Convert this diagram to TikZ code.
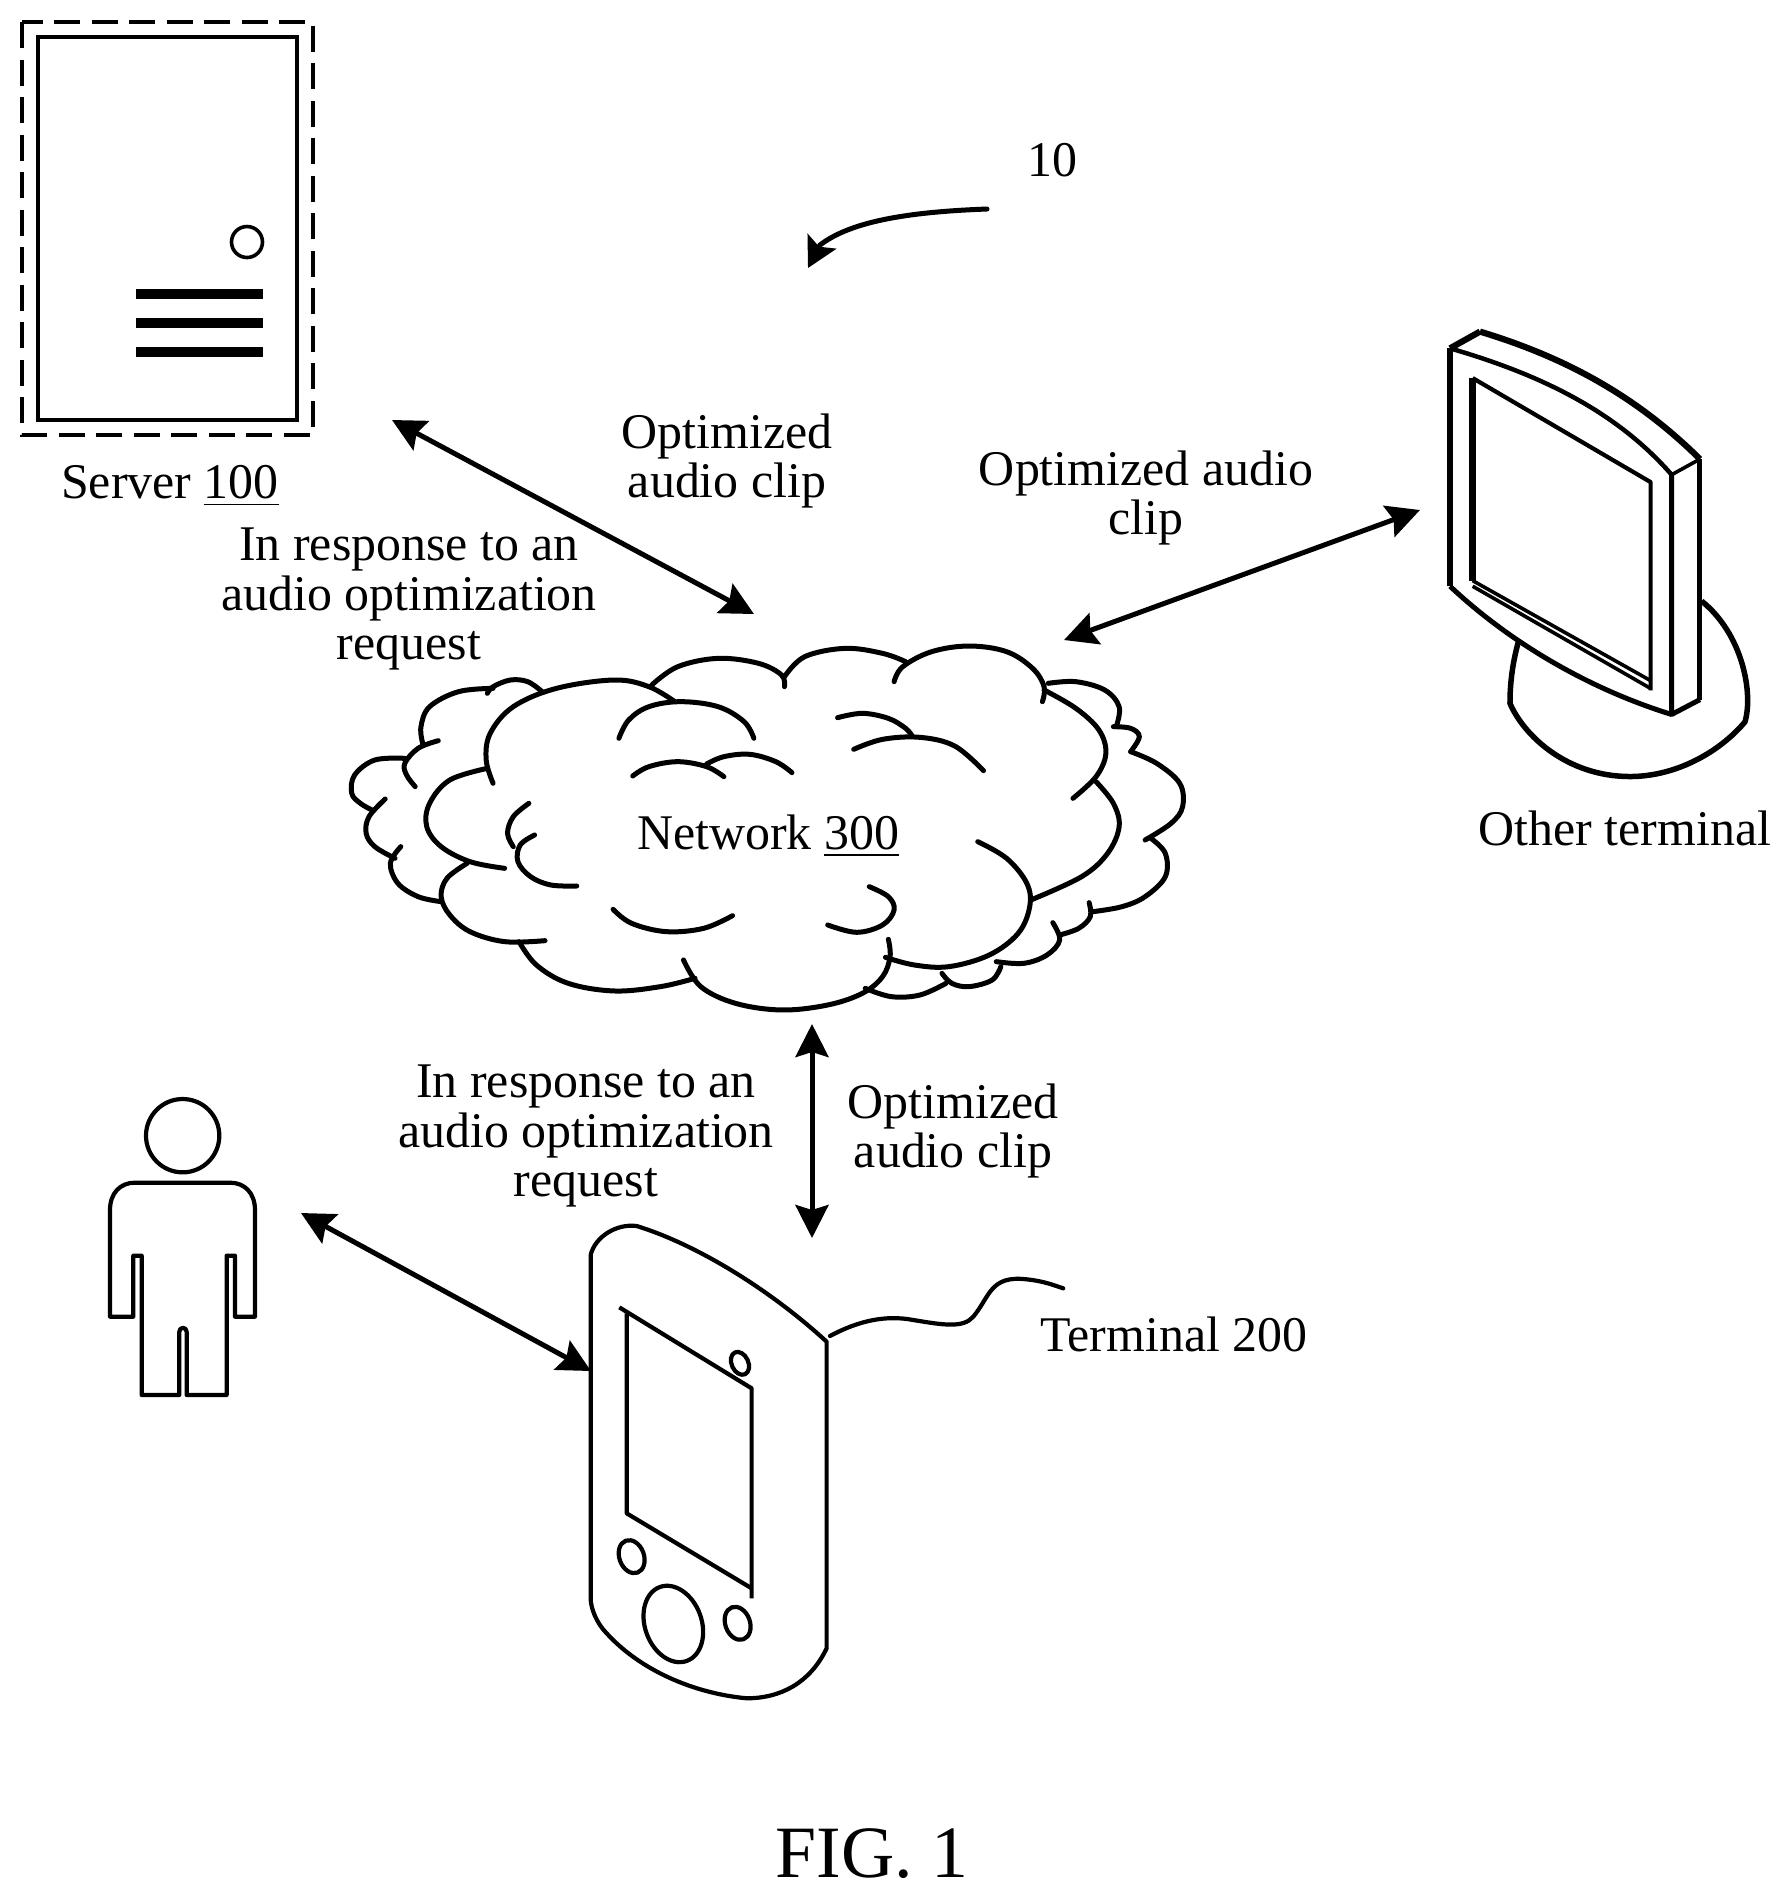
\documentclass[tikz,border=0pt]{standalone}
\usepackage{fontspec}
\setmainfont{Liberation Serif}
\usetikzlibrary{arrows.meta}
\def\puff#1{\draw[cloudline] plot[smooth,tension=0.6] coordinates {#1};}
\tikzstyle{label} = [inner sep=0pt,align=center,font=\fontsize{14.2}{14.2}\selectfont]
\tikzstyle{cloudline} = [line width=0.5mm,line cap=round]
\tikzstyle{phoneline} = [line width=0.42mm,line join=round]
\tikzstyle{arrow} = [line width=0.5mm,<->,>={Stealth[length=3.3mm,width=3.3mm,inset=0.5mm]}]
\begin{document}
\begin{tikzpicture}[x=0.1mm,y=-0.1mm]
      \useasboundingbox (0,0) rectangle (1787,1899);
      %%%%%%%%%%%%%%%%%%%%%%%%%%%%%%%%%%%%%%%
      % server
      \draw[line width=0.36mm,dash pattern=on 2.6mm off 1.15mm] (22,22) rectangle (313,435);
      \draw[line width=0.4mm] (38,37) rectangle (297,420);
      \draw[line width=0.36mm] (247,242) circle (15.5);
      \draw[line width=1mm] (136,294) -- (263,294);
      \draw[line width=1mm] (136,323) -- (263,323);
      \draw[line width=1mm] (136,352) -- (263,352);
      %%%%%%%%%%%%%%%%%%%%%%%%%%%%%%%%%%%%%%%
      % cloud
      \begin{scope}[shift={(320,620)},xscale=0.577,yscale=0.3333]
      \puff{(575,195)(620,140)(690,115)(760,130)(800,165)(805,200)}
      \puff{(805,170)(840,110)(910,85)(975,100)(1015,125)}
      \puff{(995,185)(1010,140)(1060,95)(1125,78)(1190,95)(1235,145)(1255,200)(1252,245)}
      \puff{(1255,210)(1310,265)(1350,330)(1362,400)(1345,470)(1305,535)}
      \puff{(1345,485)(1375,550)(1385,620)(1365,700)(1320,770)(1232,840)}
      \puff{(1140,665)(1190,715)(1225,790)(1230,860)(1210,940)(1160,1005)(1090,1040)(1030,1035)(980,1012)}
      \puff{(985,958)(988,1010)(975,1070)(940,1120)(880,1155)(800,1170)(720,1150)(660,1100)(630,1020)}
      \puff{(650,1075)(590,1100)(510,1113)(430,1090)(375,1035)(345,965)}
      \puff{(390,962)(320,965)(260,935)(225,885)(210,830)(220,775)(255,730)}
      \puff{(320,745)(260,725)(210,680)(185,620)(190,550)(225,480)(290,445)}
      \puff{(300,490)(288,420)(295,340)(335,260)(410,205)(510,180)(570,200)(615,245)}
      \puff{(385,215)(360,185)(330,180)(300,200)(290,220)}
      \puff{(300,205)(240,215)(190,260)(175,320)(178,370)}
      \puff{(205,362)(170,385)(147,430)(150,465)(165,500)}
      \puff{(147,415)(95,420)(60,465)(55,520)(70,550)(90,570)}
      \puff{(113,537)(85,590)(80,640)(95,680)(130,715)}
      \puff{(140,680)(122,730)(135,790)(170,830)(210,845)}
      \puff{(1262,190)(1310,185)(1360,210)(1385,260)(1380,320)}
      \puff{(1375,320)(1405,325)(1420,350)(1405,395)}
      \puff{(1405,395)(1450,430)(1490,490)(1495,560)(1475,610)(1430,660)}
      \puff{(1440,655)(1465,700)(1465,770)(1430,830)(1390,860)(1340,875)}
      \puff{(1333,848)(1335,890)(1315,925)(1282,945)}
      \puff{(1270,908)(1282,960)(1260,1005)(1220,1030)(1172,1025)}
      \puff{(1180,1040)(1165,1080)(1125,1100)(1095,1090)(1078,1060)}
      \puff{(1085,1090)(1040,1125)(990,1130)(945,1105)}
      \puff{(518,355)(535,300)(570,260)(625,245)(690,260)(735,305)(752,355)}
      \puff{(897,293)(940,280)(985,295)(1015,325)(1027,350)}
      \puff{(925,388)(975,358)(1040,352)(1100,378)(1150,452)}
      \puff{(542,468)(570,440)(620,425)(670,440)(700,470)}
      \puff{(670,432)(700,410)(745,403)(790,425)(818,458)}
      \puff{(362,550)(335,590)(325,640)(335,680)}
      \puff{(372,645)(347,675)(343,725)(365,770)(400,795)(445,798)}
      \puff{(508,868)(540,910)(600,935)(665,925)(715,887)}
      \puff{(952,800)(985,830)(995,870)(975,915)(930,937)(880,915)}
      \end{scope}
      %%%%%%%%%%%%%%%%%%%%%%%%%%%%%%%%%%%%%%%
      % other terminal
      \begin{scope}[shift={(1400,300)},xscale=0.3333,yscale=0.3717,line join=round]
      \draw[line width=0.62mm] (150,130) -- (240,85);
      \draw[line width=0.62mm] (240,85) .. controls (480,150) and (700,250) .. (900,428);
      \draw[line width=0.62mm] (150,130) -- (150,770);
      \draw[line width=0.45mm] (150,130) .. controls (400,195) and (640,290) .. (815,470);
      \draw[line width=0.36mm] (815,470) -- (900,428);
      \draw[line width=0.5mm] (815,470) -- (815,1115) -- (900,1075);
      \draw[line width=0.5mm] (900,428) -- (900,1075);
      \draw[line width=0.5mm] (150,770) .. controls (340,930) and (580,1050) .. (815,1115);
      \draw[line width=0.42mm] (218,210) -- (752,490) -- (752,1050);
      \draw[line width=0.75mm] (218,210) -- (218,755);
      \draw[line width=0.36mm] (218,755) -- (752,1024);
      \draw[line width=0.36mm] (218,770) -- (752,1045);
      \draw[line width=0.55mm] (355,920) .. controls (335,985) and (330,1040) .. (330,1085)
        .. controls (370,1170) and (500,1282) .. (690,1282)
        .. controls (830,1282) and (960,1215) .. (1035,1135)
        .. controls (1060,1060) and (1030,900) .. (905,810);
      \end{scope}
      %%%%%%%%%%%%%%%%%%%%%%%%%%%%%%%%%%%%%%%
      % terminal
      \begin{scope}[shift={(560,1200)},scale=0.3333]
      \draw[phoneline] (92,165) .. controls (105,110) and (170,70) .. (230,78)
        .. controls (400,130) and (620,260) .. (800,425) -- (800,1345)
        .. controls (750,1450) and (660,1495) .. (560,1495)
        .. controls (400,1480) and (240,1410) .. (140,1300)
        .. controls (110,1270) and (92,1225) .. (92,1195) -- cycle;
      \draw[phoneline] (178,322) -- (575,565) -- (575,1195);
      \draw[phoneline] (575,1165) -- (200,940) -- (200,340);
      \draw[phoneline,rotate around={25:(540,490)}] (540,490) ellipse (25 and 36);
      \draw[phoneline,rotate around={20:(215,1070)}] (215,1070) ellipse (37 and 51);
      \draw[phoneline,rotate around={20:(340,1272)}] (340,1272) ellipse (85 and 118);
      \draw[phoneline,rotate around={20:(533,1270)}] (533,1270) ellipse (37 and 51);
      \coordinate (lead1) at (810,408);
      \coordinate (lead2) at (1510,265);
      \draw[phoneline,line cap=round] (lead1) .. controls (900,360) and (980,345) .. (1060,360)
        .. controls (1150,375) and (1210,385) .. (1240,350)
        .. controls (1290,290) and (1290,225) .. (1400,238)
        .. controls (1450,243) and (1480,255) .. (lead2);
      \end{scope}
      %%%%%%%%%%%%%%%%%%%%%%%%%%%%%%%%%%%%%%%
      % person
      \begin{scope}[shift={(90,1090)},scale=0.3333]
      \draw[phoneline] (278,137) circle (110);
      \draw[phoneline] (60,680) -- (60,360) .. controls (60,310) and (90,278) .. (135,278) -- (420,278)
        .. controls (465,278) and (495,310) .. (495,360) -- (495,680) -- (435,680) -- (435,497) -- (410,497)
        -- (410,915) -- (290,915) -- (290,725) .. controls (290,710) and (268,710) .. (268,725) -- (268,915)
        -- (155,915) -- (155,497) -- (130,497) -- (130,680) -- cycle;
      \end{scope}
      %%%%%%%%%%%%%%%%%%%%%%%%%%%%%%%%%%%%%%%
      \node[label] (n10) at (1052,160) {10};
      \node[label] (opt1) at (727,461) {Optimized\\audio clip};
      \node[label] (opt2) at (1146,498) {Optimized audio\\clip};
      \node[label] (server) at (170,486) {Server \underline{100}};
      \node[label] (req1) at (409,599) {In response to an\\audio optimization\\request};
      \node[label] (other) at (1625,828) {Other terminal};
      \node[label] (network) at (768,836) {Network \underline{300}};
      \node[label] (req2) at (586,1136) {In response to an\\audio optimization\\request};
      \node[label] (opt3) at (953,1131) {Optimized\\audio clip};
      \node[label] (term) at (1174,1334) {Terminal 200};
      \node[inner sep=0pt,font=\fontsize{21}{21}\selectfont] (fig) at (872,1854) {FIG. 1};
      %%%%%%%%%%%%%%%%%%%%%%%%%%%%%%%%%%%%%%%
      \coordinate (a1) at (392,420);
      \coordinate (a2) at (754,614);
      \coordinate (b1) at (1064,640);
      \coordinate (b2) at (1420,510);
      \coordinate (c1) at (812,1024);
      \coordinate (c2) at (812,1238);
      \coordinate (d1) at (301,1213);
      \coordinate (d2) at (591,1371);
      \coordinate (e1) at (987,209);
      \coordinate (e2) at (820,245);
      \coordinate (e3) at (808,268);
      \draw[arrow] (a1)--(a2);
      \draw[arrow] (b1)--(b2);
      \draw[arrow] (c1)--(c2);
      \draw[arrow] (d1)--(d2);
      \draw[line width=0.5mm,line cap=round,->,>={Stealth[length=3mm,width=3.2mm,inset=0.6mm]}] (e1) .. controls (905,212) and (850,222) .. (e2) -- (e3);
      \end{tikzpicture}
\end{document}
